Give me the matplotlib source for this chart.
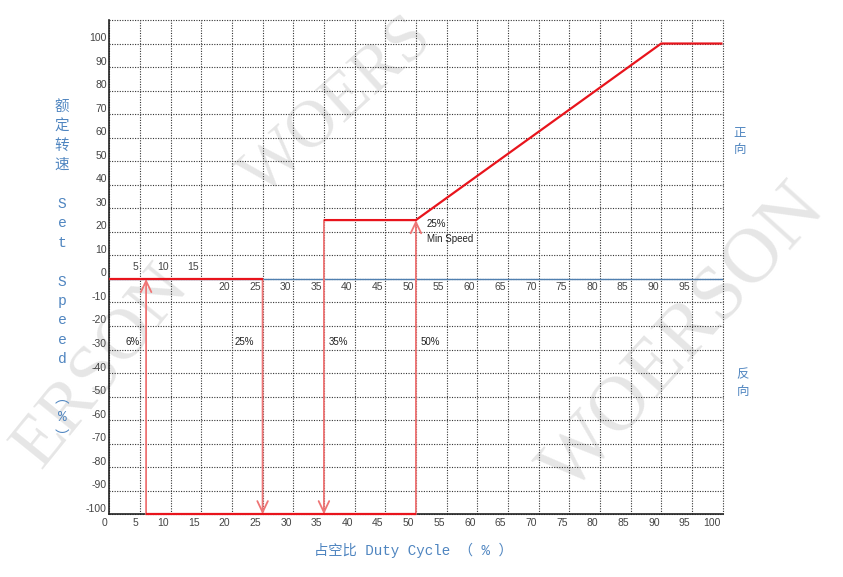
import matplotlib
matplotlib.use("Agg")
import matplotlib.pyplot as plt
from matplotlib.patches import FancyArrowPatch
from matplotlib.transforms import ScaledTranslation, blended_transform_factory

# ---------------- data ----------------
x_ticks = list(range(0, 101, 5))
x_tick_labels = [str(v) for v in x_ticks]
y_ticks = list(range(-100, 111, 10))
y_tick_labels = [str(v) if v <= 100 else "" for v in y_ticks]

axis_labels_above = [5, 10, 15]
axis_labels_below = list(range(20, 100, 5))

# forward branch (duty %, speed %)
zero_x = [0, 25]
zero_y = [0, 0]
fwd_x = [35, 50, 90, 100]
fwd_y = [25, 25, 100, 100]
rev_x = [6, 50]
rev_y = [-100, -100]

# vertical transition arrows: (duty, from speed, to speed)
arrow_duty = [6, 25, 35, 50]
arrow_from = [-100, 0, 25, -100]
arrow_to = [0, -100, -100, 25]

threshold_labels = ["6%", "25%", "35%", "50%"]
threshold_text_x = [5.0, 23.6, 35.7, 50.8]
threshold_ha = ["right", "right", "left", "left"]
threshold_text_y = -27

min_speed_label = ["25%", "Min Speed"]

ylabel_chars = ["额", "定", "转", "速", "", "S", "e", "t", "", "S", "p", "e", "e", "d", "", "︵", "%", "︶"]
xlabel_text = "占空比 Duty Cycle （ % ）"

# visible watermark fragments: (text, origin px x, origin px y, rotation, size)
watermarks = [("WOERS", 262, 198, 42, 48),
              ("WOERSON", 570, 495, 48, 56),
              ("ERSON", 42, 470, 51, 52)]

# ---------------- styling ----------------
W, H = 843, 577
BLUE = "#4f85c0"
RED = "#e8141c"
RED_LIGHT = "#ef7575"
CJK = ["Liberation Mono", "Noto Sans CJK SC", "DejaVu Sans"]

fig = plt.figure(figsize=(W / 100, H / 100), dpi=100)
fig.patch.set_facecolor("white")

for txt, ox, oy, rot, size in watermarks:
    fig.text(ox / W, 1 - oy / H, txt, fontsize=size, family="Liberation Serif",
             color="#e6e6e6", rotation=rot, rotation_mode="anchor",
             ha="left", va="baseline", zorder=-5)

left, right, top, bottom = 109.3, 722.5, 20, 514.3
ax = fig.add_axes([left / W, 1 - bottom / H, (right - left) / W, (bottom - top) / H])
ax.set_facecolor("none")
ax.set_xlim(0, 100)
ax.set_ylim(-100, 110)

ax.set_xticks(x_ticks)
ax.set_yticks(y_ticks)
ax.tick_params(length=0, labelbottom=False, labelleft=False)
ax.grid(True, color="#333333", linestyle=(0, (1, 1.3)), linewidth=0.8)
for gl in ax.get_xgridlines() + ax.get_ygridlines():
    gl.set_clip_on(False)

for s in ["top", "right"]:
    ax.spines[s].set_visible(False)
for s in ["left", "bottom"]:
    ax.spines[s].set_color("#222222")
    ax.spines[s].set_linewidth(1.2)
    ax.spines[s].set_zorder(3)

px = lambda dx, dy: ScaledTranslation(dx / 100, dy / 100, fig.dpi_scale_trans)
tick_font = dict(family="Liberation Sans", fontsize=7.5, color="#444444")

# bottom tick labels
bx = blended_transform_factory(ax.transData, ax.transAxes)
for v, lab in zip(x_ticks, x_tick_labels):
    ax.text(v, 0, lab, transform=bx + px(-1.5, -4), ha="right", va="top", **tick_font)
# left tick labels
by = blended_transform_factory(ax.transAxes, ax.transData)
for v, lab in zip(y_ticks, y_tick_labels):
    if lab:
        ax.text(0, v, lab, transform=by + px(-2.5, 5.5), ha="right", va="center", **tick_font)

# zero axis line
ax.axhline(0, color="#4f7fb0", linewidth=1.0, zorder=2)
# labels along zero line
for v in axis_labels_above:
    ax.text(v, 0, str(v), transform=ax.transData + px(-2, 12), ha="right", va="center", **tick_font)
for v in axis_labels_below:
    ax.text(v, 0, str(v), transform=ax.transData + px(-2, -8), ha="right", va="center", **tick_font)

# vertical transition arrows
for xd, y0, y1 in zip(arrow_duty, arrow_from, arrow_to):
    arr = FancyArrowPatch((xd, y0), (xd, y1), arrowstyle="->,head_length=0.8,head_width=0.38",
                          mutation_scale=10, color=RED_LIGHT, linewidth=1.3,
                          shrinkA=0, shrinkB=0, zorder=4, clip_on=False)
    ax.add_patch(arr)

# main curve segments
for xs, ys in [(zero_x, zero_y), (fwd_x, fwd_y), (rev_x, rev_y)]:
    ax.plot(xs, ys, color=RED, linewidth=1.6, zorder=5, clip_on=False, solid_capstyle="butt")

# threshold annotations
ann_font = dict(family="Liberation Sans", fontsize=7, color="#222222")
for lab, tx, ha in zip(threshold_labels, threshold_text_x, threshold_ha):
    ax.text(tx, threshold_text_y, lab, ha=ha, va="center", **ann_font)
ax.text(51.8, 23.3, min_speed_label[0], ha="left", va="center", **ann_font)
ax.text(51.8, 16.9, min_speed_label[1], ha="left", va="center", **ann_font)

# y axis label: stacked characters
for i, ch in enumerate(ylabel_chars):
    if ch:
        fig.text(62 / W, 1 - (107 + i * 19.4) / H, ch, family=CJK, fontsize=10.5,
                 color=BLUE, ha="center", va="center")

# x axis label
fig.text(413 / W, 1 - 550 / H, xlabel_text, family=CJK, fontsize=10.3, color=BLUE,
         ha="center", va="center")

# direction labels
for ch, yp in zip(["正", "向"], [133, 150]):
    fig.text(740 / W, 1 - yp / H, ch, family=["Noto Sans CJK SC"], fontsize=9,
             color=BLUE, ha="center", va="center")
for ch, yp in zip(["反", "向"], [375, 391]):
    fig.text(743 / W, 1 - yp / H, ch, family=["Noto Sans CJK SC"], fontsize=9,
             color=BLUE, ha="center", va="center")

fig.savefig("out.png", dpi=100, facecolor="white")
